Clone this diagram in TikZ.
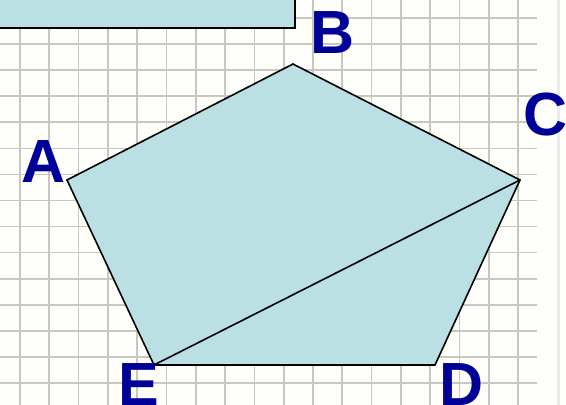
\documentclass[tikz,border=0pt]{standalone}
\usepackage{fontspec}
\setmainfont{Liberation Sans}
\usepackage{tikz}

\definecolor{shapefill}{RGB}{186,224,227}
\definecolor{gridline}{RGB}{200,200,192}
\definecolor{letterblue}{RGB}{0,0,153}
\definecolor{paperwhite}{RGB}{254,254,250}

\begin{document}
\begin{tikzpicture}[x=1pt, y=-1pt,
  every text node part/.style={align=center},
  paper/.style={gridline, line width=1.7pt},
  corner/.style={inner sep=0pt, anchor=base, text=letterblue, font=\fontsize{61}{61}\selectfont\bfseries},
  face/.style={draw, fill=shapefill, line width=1.6pt, line join=miter}]
\useasboundingbox (0,0) rectangle (566,405);
\fill [paperwhite] (0,0) rectangle (566,405);

% graph paper
\foreach \i in {0,...,17} \draw [paper] (20+29.3*\i,0) -- (20+29.3*\i,405);
\foreach \j in {0,...,14} \draw [paper] (0,18+26.07*\j) -- (537,18+26.07*\j);
\draw [gray!15, line width=3pt] (558,0) -- (558,405);

% title box (cut off)
\node (title box) [face, minimum width=310pt, minimum height=40pt, anchor=south east] at (296,29) {};

% pentagon
\coordinate (A) at (67,180);
\coordinate (B) at (293,64);
\coordinate (C) at (520,180);
\coordinate (D) at (435,365);
\coordinate (E) at (154,365);
\draw [face] (A) -- (B) -- (C) -- (D) -- (E) -- cycle;
\draw [line width=1.6pt] (E) -- (C);

\node (label A) [corner] at (44,182) {A};
\node (label B) [corner] at (333,53) {B};
\node (label C) [corner] at (546,135) {C};
\node (label D) [corner] at (462,405) {D};
\node (label E) [corner] at (139,405) {E};

\end{tikzpicture}
\end{document}
